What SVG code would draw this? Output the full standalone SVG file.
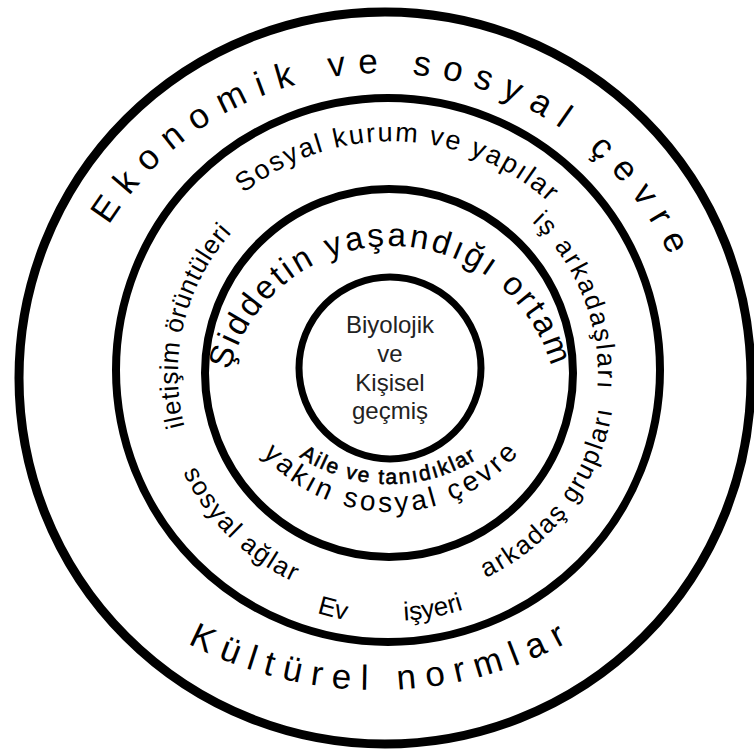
<svg xmlns="http://www.w3.org/2000/svg" xmlns:xlink="http://www.w3.org/1999/xlink" width="754" height="753" viewBox="0 0 754 753">
<style>
.ring{fill:none;stroke:#000}
.t{font-family:"Liberation Sans",Arial,sans-serif;fill:#000}
.big{font-size:35px;letter-spacing:12.2px}
.mid{font-size:26px}
.inner{font-family:"Liberation Sans",Arial,sans-serif;font-size:24px;fill:#222;text-anchor:middle}
</style>
<defs>
<path id="pEko" d="M 63.65 424.4 A 319 319 0 1 1 690.3 470.1"/>
<path id="pKul" d="M -22.8 220.5 A 405 405 0 1 0 774.8 208.9"/>
<path id="pSos" d="M 159.3 408.0 A 234 234 0 1 1 620.0 423.3"/>
<path id="pIs" d="M 281.9 196.3 A 208 208 0 1 1 430.8 578.0"/>
<path id="pArk" d="M 225.9 527.9 A 225 225 0 1 0 491.6 173.3"/>
<path id="pIle" d="M 375.8 585.5 A 212 212 0 1 1 475.7 180.1"/>
<path id="pAg" d="M 257.2 187.5 A 229 229 0 1 0 578.6 503.9"/>
<path id="pEv" d="M 160.9 273.9 A 250 250 0 1 0 639.5 389.7"/>
<path id="pIsy" d="M 143.0 375.3 A 247 247 0 1 0 621.7 288.3"/>
<path id="pSid" d="M 226.7 442.9 A 167 167 0 1 1 555.6 441.1"/>
<path id="pYak" d="M 221.2 313.5 A 171 171 0 1 0 558.0 309.1"/>
<path id="pAile" d="M 228.8 290.1 A 164 164 0 1 0 551.8 293.0"/>
</defs>
<rect width="754" height="753" fill="#fff"/>
<g id="outer-ring">
<circle class="ring" cx="385" cy="378" r="366" stroke-width="9"/>
<text class="t big" text-anchor="middle"><textPath xlink:href="#pEko" href="#pEko" startOffset="50%">Ekonomik ve sosyal çevre</textPath></text>
<text class="t" style="font-size:35px;letter-spacing:9.9px" text-anchor="middle"><textPath xlink:href="#pKul" href="#pKul" startOffset="50%">Kültürel normlar</textPath></text>
</g>
<g id="social-ring">
<circle class="ring" cx="388" cy="370" r="272" stroke-width="8"/>
<text class="t" style="font-size:27px;letter-spacing:2px" text-anchor="middle"><textPath xlink:href="#pSos" href="#pSos" startOffset="50%">Sosyal kurum ve yapılar</textPath></text>
<text class="t mid" style="letter-spacing:2.3px" text-anchor="middle"><textPath xlink:href="#pIs" href="#pIs" startOffset="50%">iş arkadaşları</textPath></text>
<text class="t mid" style="letter-spacing:2px" text-anchor="middle"><textPath xlink:href="#pArk" href="#pArk" startOffset="50%">arkadaş grupları</textPath></text>
<text class="t mid" style="letter-spacing:0.7px" text-anchor="middle"><textPath xlink:href="#pIle" href="#pIle" startOffset="50%">iletişim örüntüleri</textPath></text>
<text class="t mid" style="letter-spacing:1.8px" text-anchor="middle"><textPath xlink:href="#pAg" href="#pAg" startOffset="50%">sosyal ağlar</textPath></text>
<text class="t mid" text-anchor="middle"><textPath xlink:href="#pEv" href="#pEv" startOffset="50%">Ev</textPath></text>
<text class="t mid" text-anchor="middle"><textPath xlink:href="#pIsy" href="#pIsy" startOffset="50%">işyeri</textPath></text>
</g>
<g id="violence-ring">
<circle class="ring" cx="389" cy="373" r="184" stroke-width="8"/>
<text class="t" style="font-size:33px;letter-spacing:3px" text-anchor="middle"><textPath xlink:href="#pSid" href="#pSid" startOffset="50%">Şiddetin yaşandığı ortam</textPath></text>
<text class="t" style="font-size:28px;letter-spacing:3.5px" text-anchor="middle"><textPath xlink:href="#pYak" href="#pYak" startOffset="50%">yakın sosyal çevre</textPath></text>
<text class="t" style="font-size:21px;letter-spacing:1.9px;stroke:#000;stroke-width:0.6px" text-anchor="middle"><textPath xlink:href="#pAile" href="#pAile" startOffset="50%">Aile ve tanıdıklar</textPath></text>
</g>
<g id="core">
<circle class="ring" cx="390" cy="368" r="91" stroke-width="7"/>
<text class="inner" x="390" y="333">Biyolojik</text>
<text class="inner" x="390" y="362">ve</text>
<text class="inner" x="390" y="391">Kişisel</text>
<text class="inner" x="390" y="419">geçmiş</text>
</g>
</svg>
